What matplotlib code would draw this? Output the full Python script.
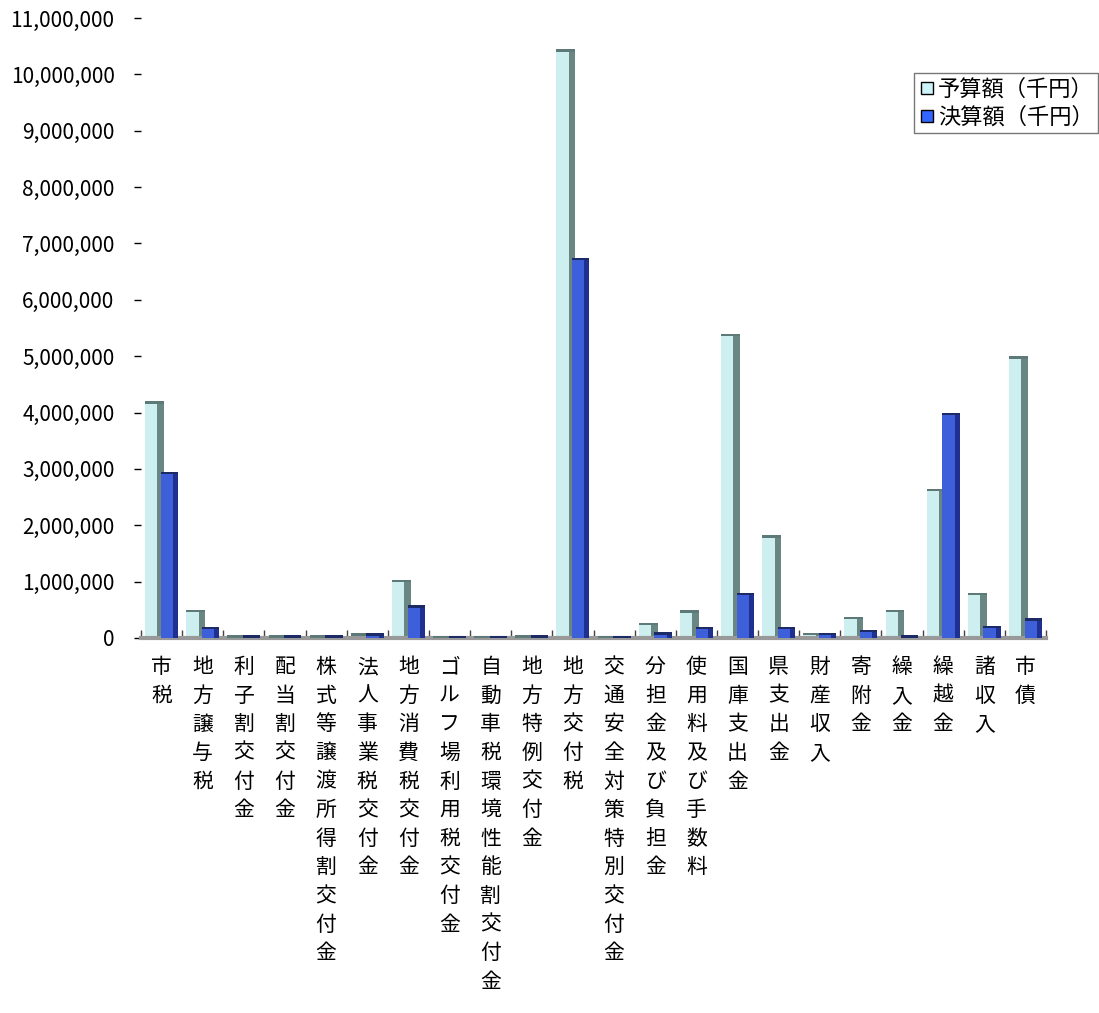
import matplotlib
matplotlib.use("Agg")
import matplotlib.pyplot as plt
from matplotlib.ticker import FuncFormatter, MultipleLocator
from matplotlib.lines import Line2D
import numpy as np

plt.rcParams['font.family'] = ['Noto Sans CJK JP', 'DejaVu Sans']

categories = ["市税", "地方譲与税", "利子割交付金", "配当割交付金", "株式等譲渡所得割交付金",
              "法人事業税交付金", "地方消費税交付金", "ゴルフ場利用税交付金",
              "自動車税環境性能割交付金", "地方特例交付金", "地方交付税",
              "交通安全対策特別交付金", "分担金及び負担金", "使用料及び手数料",
              "国庫支出金", "県支出金", "財産収入", "寄附金", "繰入金", "繰越金",
              "諸収入", "市債"]
budget = [4200000, 500000, 50000, 50000, 50000, 80000, 1030000, 40000, 40000, 50000,
          10450000, 30000, 270000, 490000, 5400000, 1820000, 90000, 380000, 500000,
          2650000, 800000, 5000000]
actual = [2950000, 200000, 50000, 50000, 50000, 80000, 580000, 40000, 40000, 50000,
          6750000, 30000, 100000, 200000, 800000, 200000, 90000, 150000, 50000,
          4000000, 220000, 350000]
series_names = ["予算額（千円）", "決算額（千円）"]

W, H = 1099, 1013
fig = plt.figure(figsize=(W / 100, H / 100), dpi=100)
ax = fig.add_axes([141 / W, 1 - 638 / H, (1046 - 141) / W, (638 - 18) / H])

x = np.arange(len(categories))
cap = 45000

# budget bars (light)
ax.bar(x - 0.02, budget, width=0.16, align='center', color='#6a8682', zorder=2)
ax.bar(x - 0.25, budget, width=0.30, align='center', color='#cdeff0', zorder=2)
ax.bar(x - 0.17, [cap] * len(x), bottom=np.array(budget) - cap, width=0.46,
       color='#5e7a78', zorder=3)
# actual bars (blue)
ax.bar(x + 0.13, actual, width=0.30, align='center', color='#3d5fd9', zorder=4)
ax.bar(x + 0.34, actual, width=0.12, align='center', color='#1f3090', zorder=4)
ax.bar(x + 0.19, [cap] * len(x), bottom=np.array(actual) - cap, width=0.42,
       color='#1c2a66', zorder=5)

ax.set_xlim(-0.5, len(categories) - 0.5)
ax.set_ylim(0, 11000000)
ax.yaxis.set_major_locator(MultipleLocator(1000000))
ax.yaxis.set_major_formatter(FuncFormatter(lambda v, p: f"{int(v):,}"))
ax.tick_params(axis='y', length=5, width=1, color='black', labelsize=15, pad=14,
               direction='out')

ax.set_xticks(x)
ax.set_xticklabels(['\n'.join(c) for c in categories], fontsize=15,
                   linespacing=1.39, va='top')
ax.tick_params(axis='x', length=0, pad=13)
ax.set_xticks(np.arange(-0.5, len(categories) - 0.4, 1), minor=True)
ax.tick_params(axis='x', which='minor', length=6, direction='in', color='#444444', width=1)

for s in ['top', 'right', 'left']:
    ax.spines[s].set_visible(False)
ax.spines['bottom'].set_color('#999999')
ax.spines['bottom'].set_linewidth(3)
ax.set_facecolor('white')

handles = [Line2D([], [], marker='s', linestyle='none', markersize=8,
                  markerfacecolor='#ccf4f8', markeredgecolor='black', markeredgewidth=1),
           Line2D([], [], marker='s', linestyle='none', markersize=8,
                  markerfacecolor='#3366ff', markeredgecolor='black', markeredgewidth=1)]
leg = fig.legend(handles, series_names, loc='upper right',
                 bbox_to_anchor=(1098 / W, 1 - 73 / H), frameon=True, fancybox=False,
                 fontsize=16, handlelength=0.7, handletextpad=0.15, borderpad=0.2,
                 labelspacing=0.25, borderaxespad=0)
leg.get_frame().set_edgecolor('#555555')
leg.get_frame().set_linewidth(1)

fig.savefig('out.png', dpi=100)
